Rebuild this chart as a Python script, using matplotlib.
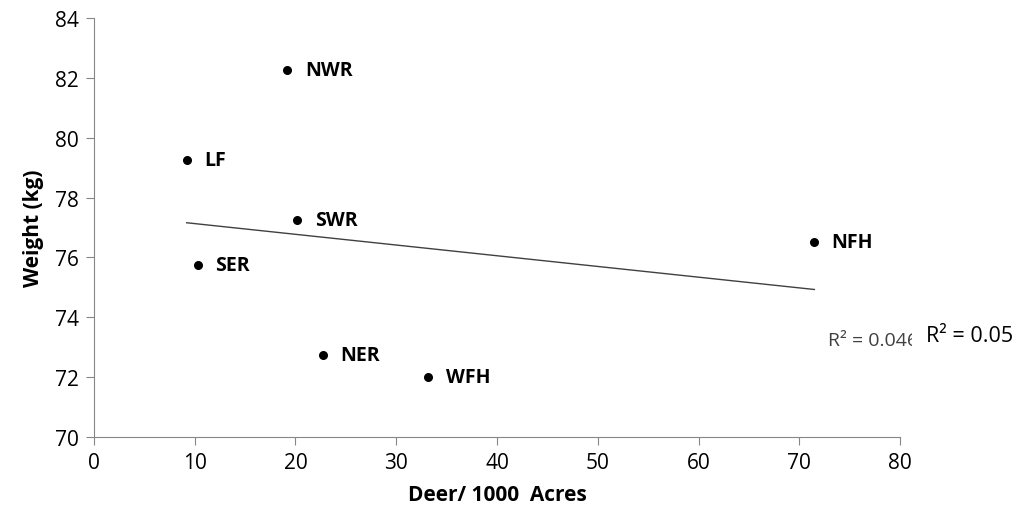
import numpy as np
import matplotlib.pyplot as plt
from matplotlib.transforms import Bbox, TransformedBbox

# Deer density vs. mean weight per site
sites = ['NWR', 'LF', 'SWR', 'SER', 'NFH', 'NER', 'WFH']
deer = [19.2, 9.2, 20.2, 10.3, 71.5, 22.7, 33.2]
weight = [82.25, 79.25, 77.25, 75.75, 76.5, 72.75, 72.0]

x_ticks = [0, 10, 20, 30, 40, 50, 60, 70, 80]
y_ticks = [70, 72, 74, 76, 78, 80, 82, 84]

plt.rcParams['font.family'] = ['Open Sans', 'DejaVu Sans']
axis_grey = '#868686'

fig = plt.figure(figsize=(10.18, 5.10), dpi=100)
ax = fig.add_axes([0.0923, 0.1412, 0.7918, 0.8215])

ax.scatter(deer, weight, s=30, color='black', zorder=3)
for name, x, y in zip(sites, deer, weight):
    ax.annotate(name, (x, y), xytext=(12.5, 0), textcoords='offset points',
                va='center', ha='left', fontsize=14, fontweight='bold')

# linear trend line over the data range
slope, intercept = np.polyfit(deer, weight, 1)
xl = np.array([min(deer), max(deer)])
ax.plot(xl, slope * xl + intercept, color='#404040', lw=1.0)

ax.set_xlim(0, 80)
ax.set_ylim(70, 84)
ax.set_xticks(x_ticks)
ax.set_yticks(y_ticks)
ax.tick_params(labelsize=15, color=axis_grey, length=6, width=0.8, pad=5)
for side in ['top', 'right']:
    ax.spines[side].set_visible(False)
for side in ['left', 'bottom']:
    ax.spines[side].set_color(axis_grey)
    ax.spines[side].set_linewidth(0.8)

ax.set_xlabel('Deer/ 1000  Acres', fontsize=15, fontweight='bold', labelpad=8)
ax.set_ylabel('Weight (kg)', fontsize=15, fontweight='bold', labelpad=8)

# the two R² labels; the first one is cut off on the right
r1 = fig.text(828 / 1018, 1 - 341 / 510, 'R² = 0.046', fontsize=14,
              color='#404040', va='center', ha='left')
r1.set_clip_box(TransformedBbox(Bbox([[0, 0], [912 / 1018, 1]]), fig.transFigure))
r1.set_clip_on(True)
fig.text(926 / 1018, 1 - 336 / 510, 'R² = 0.05', fontsize=15.5,
         color='black', va='center', ha='left')

fig.savefig('out.png', dpi=100)
